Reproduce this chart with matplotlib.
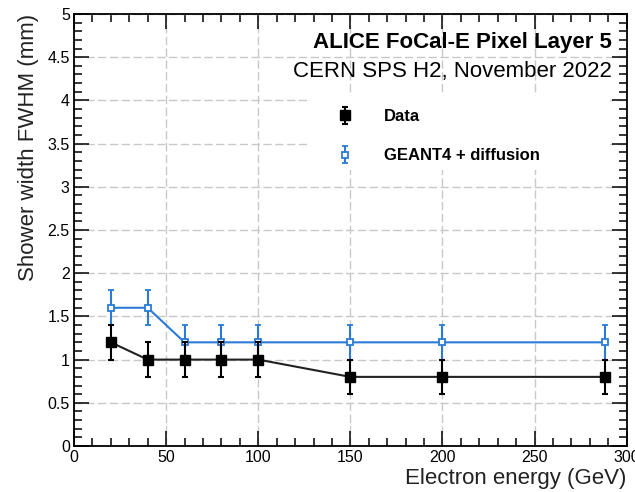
import matplotlib.pyplot as plt
from matplotlib.patches import Rectangle
from matplotlib.ticker import MultipleLocator

plt.rcParams['font.family'] = ['Liberation Sans', 'DejaVu Sans']

# Datos
energy = [20, 40, 60, 80, 100, 150, 200, 288]
data_width = [1.2, 1.0, 1.0, 1.0, 1.0, 0.8, 0.8, 0.8]
data_err = [0.2, 0.2, 0.2, 0.2, 0.2, 0.2, 0.2, 0.2]
sim_width = [1.6, 1.6, 1.2, 1.2, 1.2, 1.2, 1.2, 1.2]
sim_err = [0.2, 0.2, 0.2, 0.2, 0.2, 0.2, 0.2, 0.2]

blue = '#2b7bd6'

fig = plt.figure(figsize=(6.35, 4.92), dpi=100)
ax = fig.add_axes([0.1165, 0.0935, 0.8705, 0.878])

# lineas de union
ax.plot(energy, sim_width, '-', color=blue, lw=1.5, zorder=3)
ax.plot(energy, data_width, '-', color='#222222', lw=1.5, zorder=3)

ax.errorbar(energy, sim_width, yerr=sim_err, fmt='s', color=blue, mfc='white',
            mec=blue, mew=1.3, ms=5, elinewidth=1.5, capsize=2.5, capthick=1.5,
            label='GEANT4 + diffusion', zorder=4)
ax.errorbar(energy, data_width, yerr=data_err, fmt='s', color='black', ms=6.5,
            elinewidth=1.5, capsize=2.5, capthick=1.5, label='Data', zorder=5)

ax.set_xlim(0, 300)
ax.set_ylim(0, 5)
ax.xaxis.set_major_locator(MultipleLocator(50))
ax.xaxis.set_minor_locator(MultipleLocator(10))
ax.yaxis.set_major_locator(MultipleLocator(0.5))
ax.yaxis.set_minor_locator(MultipleLocator(0.1))
ax.set_yticks([0, 0.5, 1, 1.5, 2, 2.5, 3, 3.5, 4, 4.5, 5])
ax.set_yticklabels(['0', '0.5', '1', '1.5', '2', '2.5', '3', '3.5', '4', '4.5', '5'])

ax.tick_params(which='both', direction='in', top=True, right=True, width=1.1,
               labelsize=11.5)
ax.tick_params(which='major', length=11, pad=3)
ax.tick_params(which='minor', length=5.5)
for s in ax.spines.values():
    s.set_linewidth(1.3)

ax.grid(True, which='major', color='#c8c8c8', lw=1, linestyle=(0, (6, 2.5)))
ax.set_axisbelow(True)

# fondo blanco de la leyenda
ax.add_patch(Rectangle((0.421, 0.639), 0.548, 0.172, transform=ax.transAxes,
                       facecolor='white', edgecolor='none', zorder=2))

ax.set_xlabel('Electron energy (GeV)', loc='right', fontsize=16, color='#222222',
              labelpad=2)
ax.set_ylabel('Shower width FWHM (mm)', loc='top', fontsize=16, color='#222222',
              labelpad=6)

ax.text(0.973, 0.933, 'ALICE FoCal-E Pixel Layer 5', transform=ax.transAxes,
        ha='right', va='center', fontsize=16, fontweight='bold')
ax.text(0.973, 0.867, 'CERN SPS H2, November 2022', transform=ax.transAxes,
        ha='right', va='center', fontsize=16)

h, l = ax.get_legend_handles_labels()
ax.legend(h[::-1], l[::-1], loc='upper left', bbox_to_anchor=(0.464, 0.795),
          frameon=False, handlelength=1.0, handletextpad=1.8, labelspacing=1.45,
          prop={'size': 12, 'weight': 'bold'}, borderaxespad=0)

fig.savefig('out.png', dpi=100)
